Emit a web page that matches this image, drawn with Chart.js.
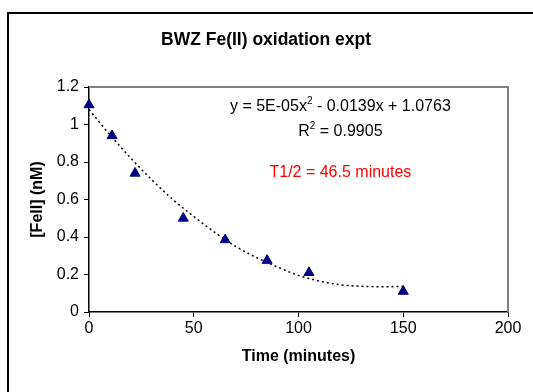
<!DOCTYPE html>
<html lang="en">
<head>
<meta charset="UTF-8">
<title>BWZ Fe(II) oxidation expt</title>
<style>
  html, body { margin: 0; padding: 0; background: #fff; overflow: hidden; }
  #frame { position: absolute; left: 7px; top: 12px; width: 600px; height: 500px; border: 2px solid #000; }
  #chart-container { position: absolute; left: 0; top: 0; width: 533px; height: 392px; }
</style>
</head>
<body>
<div id="frame"></div>
<div id="chart-container"><canvas id="myChart"></canvas></div>

<script src="https://cdn.jsdelivr.net/npm/chart.js"></script>
<script>
// measured points
const timeMin = [0, 11, 22, 45, 65, 85, 105, 150];
const feII = [1.105, 0.94, 0.74, 0.50, 0.385, 0.275, 0.21, 0.11];

// dotted trendline
const trendX = [0, 10, 20, 30, 40, 50, 60, 70, 80, 90, 100, 110, 120, 130, 140, 150];
const trendY = [1.08, 0.945, 0.82, 0.705, 0.60, 0.51, 0.425, 0.35, 0.29, 0.24, 0.195, 0.165, 0.145, 0.137, 0.135, 0.136];

const xTicks = [0, 50, 100, 150, 200];
const yTicks = [0, 0.2, 0.4, 0.6, 0.8, 1, 1.2];

const FONT = "'Liberation Sans', Arial, sans-serif";
Chart.defaults.font.family = FONT;
Chart.defaults.color = '#000';

// gray plot area border on top and right (Excel style)
const plotBorder = {
  id: 'plotBorder',
  beforeDatasetsDraw(chart) {
    const { ctx, chartArea: a } = chart;
    ctx.save();
    ctx.strokeStyle = '#808080';
    ctx.lineWidth = 2;
    ctx.beginPath();
    ctx.moveTo(a.left, a.top);
    ctx.lineTo(a.right, a.top);
    ctx.lineTo(a.right, a.bottom);
    ctx.stroke();
    ctx.restore();
  }
};

// trendline label and half-life note
function drawParts(ctx, parts, cx, cy) {
  let total = 0;
  parts.forEach(p => {
    ctx.font = (p.sup ? '10px ' : '16px ') + FONT;
    p.w = ctx.measureText(p.t).width;
    total += p.w;
  });
  let x = cx - total / 2;
  parts.forEach(p => {
    ctx.font = (p.sup ? '10px ' : '16px ') + FONT;
    ctx.fillText(p.t, x, p.sup ? cy - 6 : cy);
    x += p.w;
  });
}

const notes = {
  id: 'notes',
  afterDatasetsDraw(chart) {
    const { ctx, scales: { x, y } } = chart;
    const cx = x.getPixelForValue(120);
    ctx.save();
    ctx.textBaseline = 'middle';
    ctx.textAlign = 'left';
    ctx.fillStyle = '#000';
    drawParts(ctx, [{ t: 'y = 5E-05x' }, { t: '2', sup: true }, { t: ' - 0.0139x + 1.0763' }], cx, y.getPixelForValue(1.093));
    drawParts(ctx, [{ t: 'R' }, { t: '2', sup: true }, { t: ' = 0.9905' }], cx, y.getPixelForValue(0.96));
    ctx.fillStyle = '#ff0000';
    drawParts(ctx, [{ t: 'T1/2 = 46.5 minutes' }], cx, y.getPixelForValue(0.741));
    ctx.restore();
  }
};

const ctx = document.getElementById('myChart').getContext('2d');
const chart = new Chart(ctx, {
  type: 'scatter',
  data: {
    datasets: [
      {
        label: 'Fe(II)',
        data: timeMin.map((t, i) => ({ x: t, y: feII[i] })),
        pointStyle: 'triangle',
        pointRadius: 5.8,
        pointHoverRadius: 5.8,
        backgroundColor: '#000080',
        borderColor: '#000080',
        borderWidth: 1,
        clip: false,
        order: 1
      },
      {
        label: 'Poly. (Fe(II))',
        type: 'line',
        data: trendX.map((t, i) => ({ x: t, y: trendY[i] })),
        showLine: true,
        pointRadius: 0,
        borderColor: '#000',
        borderWidth: 1.5,
        borderDash: [2, 3],
        cubicInterpolationMode: 'monotone',
        fill: false,
        order: 2
      }
    ]
  },
  options: {
    responsive: true,
    maintainAspectRatio: false,
    animation: false,
    layout: { padding: { left: 24, right: 25, top: 0, bottom: 0 } },
    plugins: {
      legend: { display: false },
      tooltip: { enabled: false },
      title: {
        display: true,
        text: 'BWZ Fe(II) oxidation expt',
        font: { size: 17.5, weight: 'bold' },
        color: '#000',
        padding: { top: 30, bottom: 36 }
      }
    },
    scales: {
      x: {
        type: 'linear',
        min: 0,
        max: 200,
        afterBuildTicks: s => { s.ticks = xTicks.map(v => ({ value: v })); },
        afterFit: s => { s.height = 80; },
        grid: { drawOnChartArea: false, drawTicks: true, tickLength: 5, tickColor: '#000' },
        border: { color: '#000', width: 1.5 },
        ticks: { font: { size: 16 }, padding: 2, color: '#000' },
        title: {
          display: true,
          text: 'Time (minutes)',
          font: { size: 16, weight: 'bold' },
          padding: { top: 0, bottom: 26 }
        }
      },
      y: {
        type: 'linear',
        min: 0,
        max: 1.2,
        afterBuildTicks: s => { s.ticks = yTicks.map(v => ({ value: v })); },
        afterFit: s => { s.width = 65; },
        grid: { drawOnChartArea: false, drawTicks: true, tickLength: 5, tickColor: '#000' },
        border: { color: '#000', width: 1.5 },
        ticks: {
          font: { size: 16 },
          padding: 5,
          color: '#000',
          callback: v => String(Number(v.toFixed(1)))
        },
        title: {
          display: true,
          text: '[FeII] (nM)',
          font: { size: 16, weight: 'bold' },
          padding: { top: 4, bottom: 4 }
        }
      }
    }
  },
  plugins: [plotBorder, notes]
});
</script>
</body>
</html>
